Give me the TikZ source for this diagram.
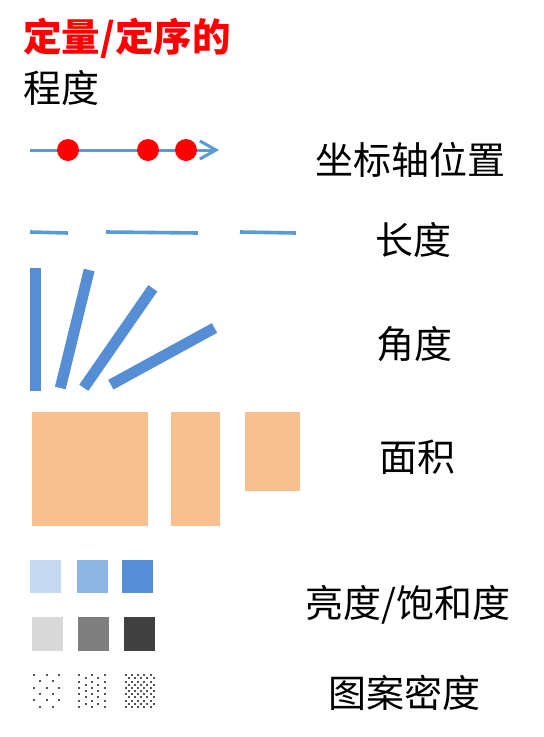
\documentclass[tikz,border=0pt]{standalone}
\usepackage{fontspec}
\newfontfamily\cjk{Noto Sans CJK SC}
\usetikzlibrary{arrows.meta}
\definecolor{axisblue}{HTML}{5B9BD5}
\definecolor{barblue}{HTML}{558ED5}
\definecolor{areaor}{HTML}{F8C08F}
\definecolor{lb1}{HTML}{C5D9F1}
\definecolor{lb2}{HTML}{8EB4E3}
\definecolor{lb3}{HTML}{558ED5}
\definecolor{gr1}{HTML}{D9D9D9}
\definecolor{gr2}{HTML}{7F7F7F}
\definecolor{gr3}{HTML}{404040}
\definecolor{dotc}{HTML}{555555}
\tikzset{
  lbl/.style={inner sep=0pt, font=\cjk\fontsize{38}{42}\selectfont},
  lenline/.style={axisblue, line width=3.6pt},
  anglebar/.style={barblue, line width=11pt},
  reddot/.style={fill=red, draw=none},
  pdot/.style={fill=dotc, draw=none},
}
\begin{document}
\begin{tikzpicture}[x=1pt,y=-1pt]
\useasboundingbox[fill=white] (0,0) rectangle (544,737);
% titles
\node[lbl, anchor=west, text=red, font=\cjk\bfseries\fontsize{38.5}{42}\selectfont] (t1) at (23,38) {定量/定序的};
\node[lbl, anchor=west] (t2) at (23,88) {程度};
% axis
\coordinate (ax0) at (30,150);
\coordinate (ax1) at (219,150);
\draw[axisblue, line width=3pt, -{Straight Barb[length=16pt,width=18pt,line width=3pt]}] (ax0) -- (ax1);
\fill[reddot] (68,150) circle (11);
\fill[reddot] (148,150) circle (11);
\fill[reddot] (186,150) circle (11);
\node[lbl] (l1) at (410,160) {坐标轴位置};
% lengths
\draw[lenline] (30,232) -- (68,233);
\draw[lenline] (106,232) -- (198,233);
\draw[lenline] (240,232) -- (296,233);
\node[lbl] (l2) at (413,240) {长度};
% angles
\draw[anglebar] (35.5,268) -- (35.5,391);
\draw[anglebar] (89.2,270) -- (60.3,388);
\draw[anglebar] (152.8,288.3) -- (83.8,387.8);
\draw[anglebar] (214.5,328) -- (110.8,384.7);
\node[lbl] (l3) at (414,344) {角度};
% areas
\fill[areaor] (32,412) rectangle (148,526);
\fill[areaor] (171,412) rectangle (220,526);
\fill[areaor] (245,412) rectangle (300,491);
\node[lbl] (l4) at (417,457) {面积};
% brightness squares
\fill[lb1] (30,560) rectangle (61,593);
\fill[lb2] (77,560) rectangle (108,593);
\fill[lb3] (122,560) rectangle (153,593);
\fill[gr1] (32,617) rectangle (63,651);
\fill[gr2] (78,617) rectangle (109,651);
\fill[gr3] (124,617) rectangle (155,651);
\node[lbl] (l5) at (408,605) {亮度/饱和度};
% pattern density
\foreach \r in {0,...,5}{
  \pgfmathsetmacro{\yy}{675+6.35*\r}
  \ifodd\r
    \foreach \c in {0,1}{\fill[pdot] ({40.2+12.5*\c-1},\yy-1) rectangle ++(2,2);}
  \else
    \foreach \c in {0,1,2}{\fill[pdot] ({34+12.5*\c-1},\yy-1) rectangle ++(2,2);}
  \fi
}
\foreach \c in {0,...,4}{
  \pgfmathsetmacro{\xx}{79.3+6.3*\c}
  \ifodd\c
    \foreach \r in {0,...,4}{\fill[pdot] (\xx-1,{678.3+6.35*\r-1}) rectangle ++(2,2);}
  \else
    \foreach \r in {0,...,5}{\fill[pdot] (\xx-1,{675.3+6.35*\r-1}) rectangle ++(2,2);}
  \fi
}
\foreach \r in {0,...,10}{
  \pgfmathsetmacro{\yy}{675.3+3.17*\r}
  \ifodd\r
    \foreach \c in {0,...,4}{\fill[pdot] ({128.7+6.25*\c-1},\yy-1) rectangle ++(2,2);}
  \else
    \foreach \c in {0,...,4}{\fill[pdot] ({125.7+6.25*\c-1},\yy-1) rectangle ++(2,2);}
  \fi
}
\node[lbl] (l6) at (404,693) {图案密度};
\end{tikzpicture}
\end{document}
